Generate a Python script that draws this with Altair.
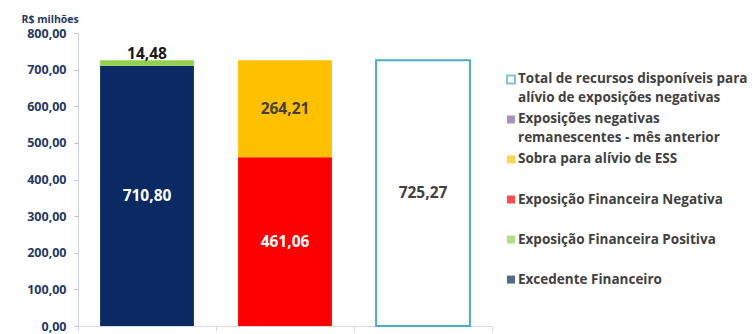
import altair as alt
import pandas as pd

# ---- data ----
categories = ["Recursos", "Usos", "Total"]
bar_category = ["Recursos", "Recursos", "Usos", "Usos", "Total"]
bar_series = [
    "Excedente Financeiro",
    "Exposição Financeira Positiva",
    "Exposição Financeira Negativa",
    "Sobra para alívio de ESS",
    "Total de recursos disponíveis para alívio de exposições negativas",
]
bar_values = [710.80, 14.48, 461.06, 264.21, 725.27]
label_inside = [True, False, True, True, True]
label_colors = ["#FFFFFF", "#1A1A1A", "#FFFFFF", "#404040", "#404040"]

series_domain = [
    "Total de recursos disponíveis para alívio de exposições negativas",
    "Exposições negativas remanescentes - mês anterior",
    "Sobra para alívio de ESS",
    "Exposição Financeira Negativa",
    "Exposição Financeira Positiva",
    "Excedente Financeiro",
]
fill_colors = ["#FFFFFF", "#8064A2", "#FFC000", "#FF0000", "#92D050", "#0B2A63"]
stroke_colors = ["#4BACC6", "#8064A2", "#FFC000", "#FF0000", "#92D050", "#0B2A63"]
stroke_widths = [2, 0, 0, 0, 0, 0]

legend_labels = [
    "Total de recursos disponíveis para\nalívio de exposições negativas",
    "Exposições negativas\nremanescentes - mês anterior",
    "Sobra para alívio de ESS",
    "Exposição Financeira Negativa",
    "Exposição Financeira Positiva",
    "Excedente Financeiro",
]
y_ticks = [0, 100, 200, 300, 400, 500, 600, 700, 800]

FONT = "Open Sans"
NAVY = "#1F3864"

# ---- build tables ----
bars = pd.DataFrame({
    "categoria": bar_category,
    "serie": bar_series,
    "valor": bar_values,
    "dentro": label_inside,
    "cor_texto": label_colors,
})
bars["fim"] = bars.groupby("categoria")["valor"].cumsum()
bars["inicio"] = bars["fim"] - bars["valor"]
bars["meio"] = (bars["fim"] + bars["inicio"]) / 2
bars["rotulo"] = bars["valor"].map(lambda v: f"{v:.2f}".replace(".", ","))
sw_map = dict(zip(series_domain, stroke_widths))
bars["borda"] = bars["serie"].map(sw_map)

legend_df = pd.DataFrame({
    "ordem": list(range(len(series_domain))),
    "serie": series_domain,
    "texto": legend_labels,
    "fill": fill_colors,
    "stroke": stroke_colors,
    "sw": [2 if w else 0 for w in stroke_widths],
})

W, H = 414, 293

x_scale = alt.Scale(paddingInner=0, paddingOuter=0)
x_axis = alt.Axis(
    title=None, labels=False, tickBand="extent", tickSize=5,
    domainColor="#D9D9D9", tickColor="#D9D9D9",
)
y_scale = alt.Scale(domain=[0, 800], nice=False, zero=True)
y_axis = alt.Axis(
    values=y_ticks,
    labelExpr="replace(format(datum.value, '.2f'), '.', ',')",
    labelOverlap=False,
    title="R$ milhões",
    titleAngle=0,
    titleX=-57,
    titleY=-14,
    titleAlign="left",
    titleBaseline="middle",
    titleFont=FONT,
    titleFontSize=10.5,
    titleFontWeight="bold",
    titleColor=NAVY,
    labelFont=FONT,
    labelFontSize=12.5,
    labelFontWeight="bold",
    labelColor=NAVY,
    labelPadding=8,
    tickSize=4,
    tickColor="#BFBFBF",
    domainColor="#C9D3E3",
    grid=False,
)

def xe():
    return alt.X("categoria:N", sort=categories, scale=x_scale, axis=x_axis)

def ye(field):
    return alt.Y(field, scale=y_scale, axis=y_axis)

base = alt.Chart(bars)

bar_layer = base.mark_bar(width=alt.RelativeBandSize(0.68)).encode(
    x=xe(),
    y=ye("inicio:Q"),
    y2="fim:Q",
    fill=alt.Fill("serie:N", scale=alt.Scale(domain=series_domain, range=fill_colors), legend=None),
    stroke=alt.Stroke("serie:N", scale=alt.Scale(domain=series_domain, range=stroke_colors), legend=None),
    strokeWidth=alt.StrokeWidth("borda:Q", scale=None),
)

inside_text = base.transform_filter("datum.dentro").mark_text(
    font=FONT, fontSize=15.5, fontWeight="bold", baseline="middle"
).encode(
    x=xe(),
    y=ye("meio:Q"),
    text="rotulo:N",
    color=alt.Color("cor_texto:N", scale=None),
)

top_text = base.transform_filter("!datum.dentro").mark_text(
    font=FONT, fontSize=15.5, fontWeight="bold", baseline="bottom", dy=2
).encode(
    x=xe(),
    y=ye("fim:Q"),
    text="rotulo:N",
    color=alt.Color("cor_texto:N", scale=None),
)

main = alt.layer(bar_layer, inside_text, top_text).properties(width=W, height=H)

leg_y = alt.Y("ordem:Q", scale=alt.Scale(domain=[-1.16, 6.16], nice=False, zero=False, reverse=True), axis=None)
leg_sym = alt.Chart(legend_df).mark_square(size=64).encode(
    x=alt.value(8),
    y=leg_y,
    fill=alt.Fill("fill:N", scale=None),
    stroke=alt.Stroke("stroke:N", scale=None),
    strokeWidth=alt.StrokeWidth("sw:Q", scale=None),
)
leg_txt = alt.Chart(legend_df).mark_text(
    font=FONT, fontSize=13.5, fontWeight="bold", color="#404040",
    align="left", baseline="top", dy=-7, lineBreak="\n", lineHeight=18.5,
).encode(
    x=alt.value(15),
    y=leg_y,
    text="texto:N",
)
legend_chart = alt.layer(leg_sym, leg_txt).properties(width=240, height=H)

chart = alt.hconcat(main, legend_chart, spacing=10).properties(
    padding={"left": 21, "top": 14, "right": 0, "bottom": 0},
    background="white",
).configure_view(stroke=None)

chart.save("out.html", embed_options={"renderer": "svg", "actions": False})
